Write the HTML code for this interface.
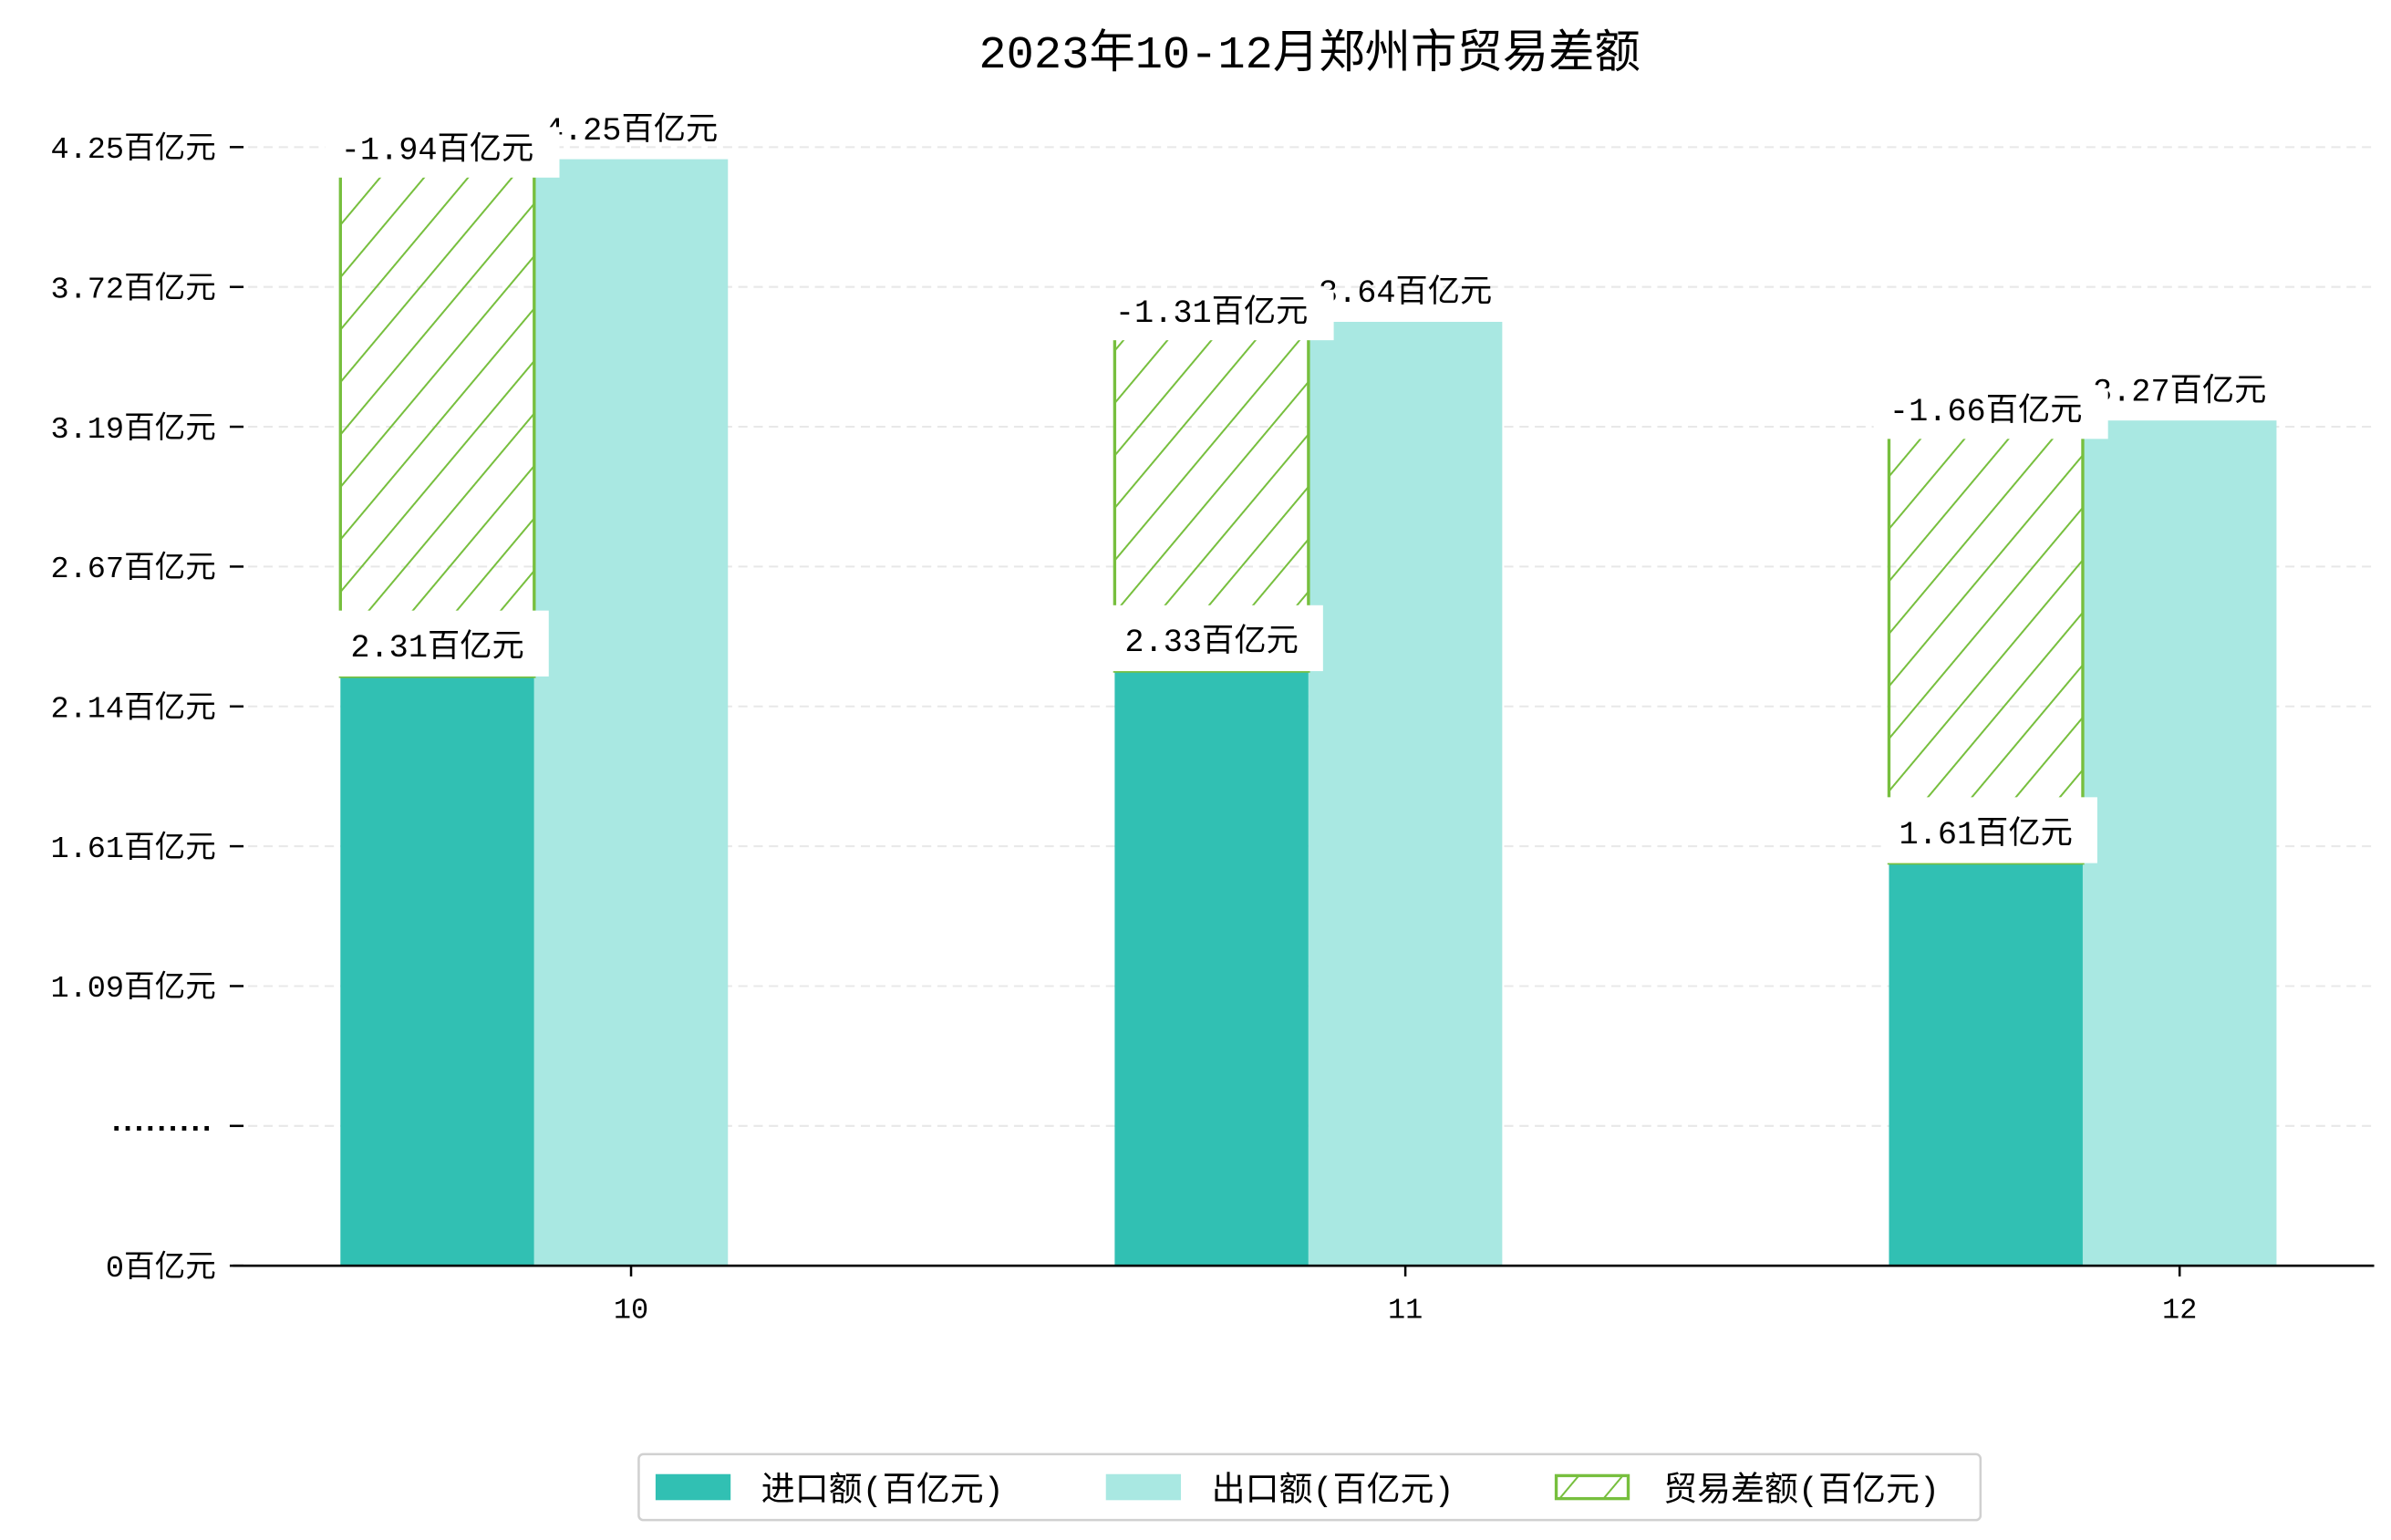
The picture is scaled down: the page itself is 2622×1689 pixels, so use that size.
<!DOCTYPE html>
<html><head><meta charset="utf-8">
<style>
html,body{margin:0;padding:0;background:#fff;}
svg{display:block;font-family:"Liberation Mono","WenQuanYi Zen Hei","Noto Sans CJK SC",monospace;}
</style></head>
<body>
<svg id="chart" width="2622" height="1689" viewBox="0 0 1561 1005" preserveAspectRatio="none" xmlns="http://www.w3.org/2000/svg">
<defs>
<pattern id="hatch" patternUnits="userSpaceOnUse" width="22" height="22" patternTransform="rotate(40)">
<line x1="0" y1="0" x2="0" y2="22" stroke="#77bf3e" stroke-width="2.4"/>
</pattern>
</defs>
<text x="855" y="44" text-anchor="middle" font-size="30" fill="#000">2023年10-12月郑州市贸易差额</text>
<g id="grid"></g>
<g id="bars"></g>
<g id="labels"></g>
<g id="axes"></g>
<g id="legend">
<rect x="417" y="949" width="876" height="43" rx="3" fill="#fff" stroke="#d0d0d0" stroke-width="1.5"/>
<rect x="428" y="962" width="49" height="17" fill="#31c0b3"/>
<text x="497" y="979" font-size="22">进口额(百亿元)</text>
<rect x="722" y="962" width="49" height="17" fill="#a9e8e2"/>
<text x="791" y="979" font-size="22">出口额(百亿元)</text>
<rect x="1016" y="963" width="47" height="15" fill="url(#hatch)" stroke="#77bf3e" stroke-width="2"/>
<text x="1086" y="979" font-size="22">贸易差额(百亿元)</text>
</g>
</svg>
<script>
const categories = ["10", "11", "12"];
const importVals = [2.31, 2.33, 1.61];
const exportVals = [4.25, 3.64, 3.27];
const tickLabels = ["0百亿元", ".........", "1.09百亿元", "1.61百亿元", "2.14百亿元", "2.67百亿元", "3.19百亿元", "3.72百亿元", "4.25百亿元"];

const NS = "http://www.w3.org/2000/svg";
const X0 = 152, X1 = 1550, Y0 = 826;
const catStart = 412, catStep = 505.5, barW = 126.5;
function xCat(i) { return catStart + i * catStep; }
function yVal(v) { return Y0 - (v - 0.1) * 174; }
function yTick(i) { return Y0 - i * 91.25; }
function mk(tag, attrs, parent) {
  const e = document.createElementNS(NS, tag);
  for (const k in attrs) e.setAttribute(k, attrs[k]);
  parent.appendChild(e);
  return e;
}
const grid = document.getElementById('grid');
const bars = document.getElementById('bars');
const labels = document.getElementById('labels');
const axes = document.getElementById('axes');

tickLabels.forEach((t, i) => {
  const y = yTick(i);
  if (i > 0) {
    const g = mk('line', {x1: X0, x2: X1, y1: y, y2: y, stroke: '#e8e8e8', 'stroke-width': 1.2, 'stroke-dasharray': '6 4'}, grid);
    
    
  }
  const tk = mk('line', {x1: 150, x2: 159, y1: y, y2: y, stroke: '#000', 'stroke-width': 1.5}, axes);
  
  
  const tl = mk('text', {x: 141, y: y + 7, 'text-anchor': 'end', 'font-size': 20}, axes);
  if (i === 1) { tl.setAttribute('font-weight', 'bold'); tl.setAttribute('y', y + 3); tl.setAttribute('textLength', 71); }
  tl.textContent = t;
  
  
});

categories.forEach((c, i) => {
  const cx = xCat(i);
  const ix = cx - 1.5 * barW, ex = cx - 0.5 * barW;
  const yi = yVal(importVals[i]), ye = yVal(exportVals[i]);
  const bi = mk('rect', {x: ix, y: yi, width: barW, height: Y0 - yi, fill: '#31c0b3'}, bars);
  
  
  const be = mk('rect', {x: ex, y: ye, width: barW, height: Y0 - ye, fill: '#a9e8e2'}, bars);
  
  
  const bd = mk('rect', {x: ix, y: ye, width: barW, height: yi - ye, fill: 'url(#hatch)', stroke: '#77bf3e', 'stroke-width': 2}, bars);
  
  

  const el = mk('text', {x: ex + barW / 2, y: ye - 13, 'text-anchor': 'middle', 'font-size': 21}, labels);
  el.textContent = exportVals[i].toFixed(2) + '百亿元';
  
  
  const ib = mk('rect', {x: ix - 4, y: yi - 43, width: 140, height: 43, fill: '#fff'}, labels);
  
  
  const il = mk('text', {x: ix + barW / 2, y: yi - 13, 'text-anchor': 'middle', 'font-size': 21}, labels);
  il.textContent = importVals[i].toFixed(2) + '百亿元';
  
  
  const diff = importVals[i] - exportVals[i];
  const db = mk('rect', {x: ix - 10, y: ye - 21, width: 153, height: 33, fill: '#fff'}, labels);
  
  
  const dl = mk('text', {x: ix + barW / 2, y: ye, 'text-anchor': 'middle', 'font-size': 21}, labels);
  dl.textContent = diff.toFixed(2) + '百亿元';
  
  

  const xt = mk('line', {x1: cx, x2: cx, y1: Y0, y2: Y0 + 7, stroke: '#000', 'stroke-width': 1.5}, axes);
  
  
  const xl = mk('text', {x: cx, y: Y0 + 34, 'text-anchor': 'middle', 'font-size': 19}, axes);
  xl.textContent = c;
  
  
});
const ax = mk('line', {x1: X0, x2: X1, y1: Y0, y2: Y0, stroke: '#000', 'stroke-width': 1.6}, axes);


</script>
</body></html>
